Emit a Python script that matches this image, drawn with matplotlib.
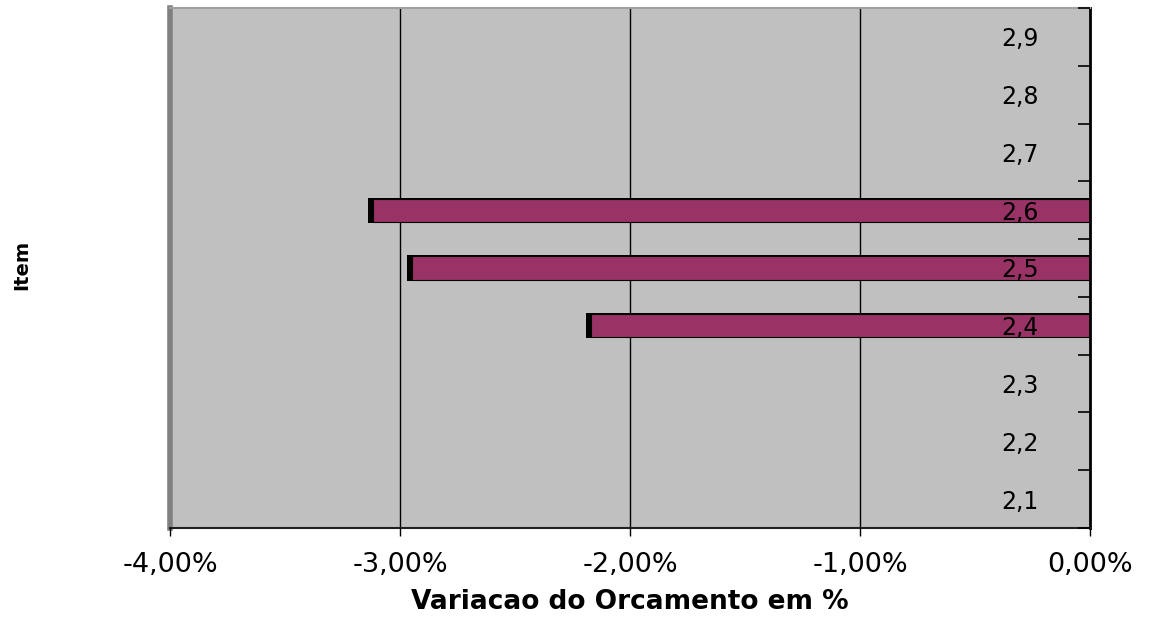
import matplotlib
matplotlib.use("Agg")
import matplotlib.pyplot as plt
from matplotlib.ticker import FixedLocator, FuncFormatter

plt.rcParams["font.family"] = ["DejaVu Sans"]
plt.rcParams["axes.unicode_minus"] = False

# categories on the y axis (bottom to top)
categories = ["2,1", "2,2", "2,3", "2,4", "2,5", "2,6", "2,7", "2,8", "2,9"]
# items with a value and their budget variation in %
items = ["2,4", "2,5", "2,6"]
variation = [-2.19, -2.97, -3.14]
x_ticks = [-4, -3, -2, -1, 0]

BAR_COLOR = "#993366"
DEPTH = 0.022  # dark left face of the 3D-style bars, in %


def pct(v, _pos=None):
    return f"{v:.2f}%".replace(".", ",")


fig = plt.figure(figsize=(11.61, 6.18), dpi=100)
ax = fig.add_axes([170 / 1161, 1 - 528 / 618, 920 / 1161, 520 / 618])
ax.set_facecolor("#C0C0C0")

# gridlines under the bars, axis labels above them
for t in x_ticks[1:-1]:
    ax.axvline(t, color="black", linewidth=1, zorder=0.8)

ypos = [categories.index(c) for c in items]
ax.barh(ypos, variation, height=0.44, color="black", zorder=1.2)
ax.barh(ypos, [-(v + DEPTH) for v in variation], left=[v + DEPTH for v in variation],
        height=0.40, color=BAR_COLOR, edgecolor="black", linewidth=0.8, zorder=1.4)

ax.set_xlim(-4, 0)
ax.set_ylim(-0.5, len(categories) - 0.5)
ax.set_axisbelow(False)

ax.xaxis.set_major_locator(FixedLocator(x_ticks))
ax.xaxis.set_major_formatter(FuncFormatter(pct))
ax.tick_params(axis="x", direction="out", length=6, width=1, pad=11, labelsize=19.5)

ax.yaxis.tick_right()
ax.set_yticks(range(len(categories)))
ax.set_yticklabels(categories)
ax.set_yticks([i - 0.5 for i in range(len(categories) + 1)], minor=True)
ax.tick_params(axis="y", which="major", length=0, pad=-64, labelsize=17)
ax.tick_params(axis="y", which="minor", direction="in", length=8.5, width=1.2)

ax.spines["left"].set_color("#808080")
ax.spines["left"].set_linewidth(4)
ax.spines["top"].set_color("#a0a0a0")
ax.spines["top"].set_linewidth(1.5)
ax.spines["right"].set_color("black")
ax.spines["right"].set_linewidth(2)
ax.spines["bottom"].set_color("#202020")
ax.spines["bottom"].set_linewidth(1.5)

ax.set_xlabel("Variacao do Orcamento em %", fontsize=19, fontweight="bold", labelpad=8)
fig.text(22 / 1161, 1 - 265 / 618, "Item", rotation=90, fontsize=14,
         fontweight="bold", ha="center", va="center")

fig.savefig("out.png", dpi=100)
